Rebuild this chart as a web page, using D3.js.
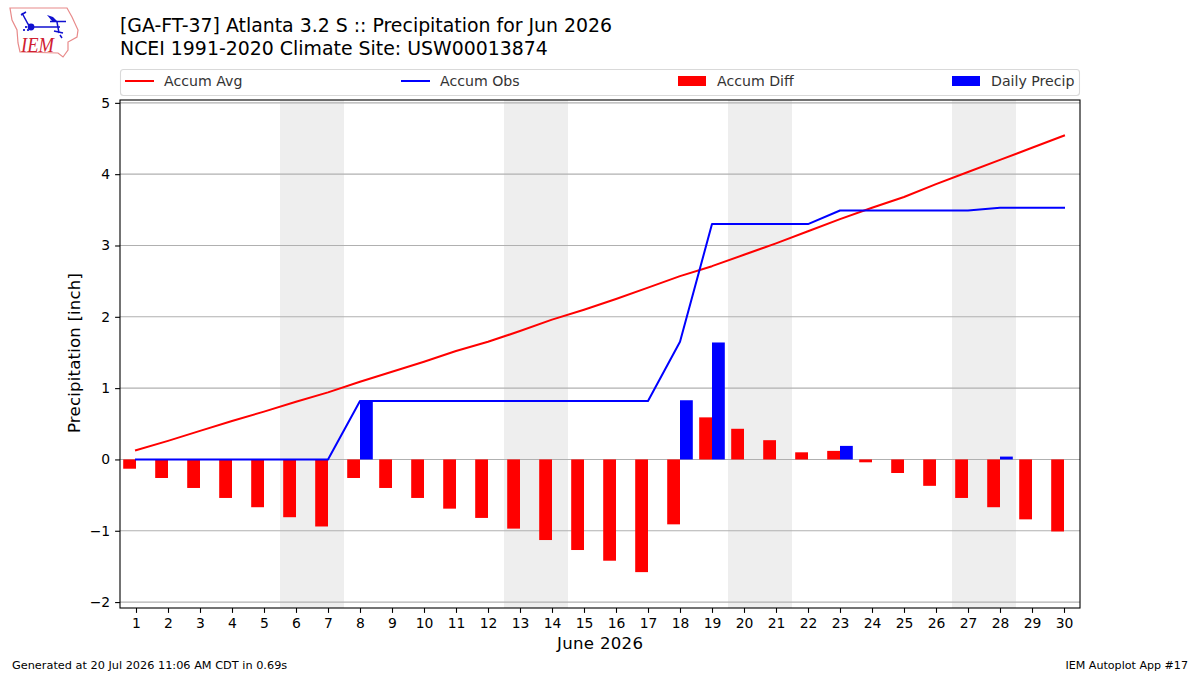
<!doctype html>
<html>
  <head>
    <meta charset="utf-8"/>
    <title>Precipitation for Jun 2026</title>
    <style>
      body, html {
        padding: 0;
        margin: 0;
        background: white;
      }
      svg {
        display: block;
      }
      text {
        font-family: "DejaVu Sans";
        fill: #000;
      }
    </style>
    <script src="https://d3js.org/d3.v7.min.js"></script>
  </head>
  <body>
    <svg id="chart" width="1200" height="675"></svg>

    <script>
      var days = d3.range(1, 31);
      var accumAvg = [0.13, 0.26, 0.40, 0.54, 0.67, 0.81, 0.94, 1.09, 1.23, 1.37,
                      1.52, 1.65, 1.80, 1.96, 2.10, 2.25, 2.41, 2.57, 2.71, 2.87,
                      3.03, 3.20, 3.37, 3.53, 3.68, 3.86, 4.03, 4.20, 4.37, 4.54];
      var accumObs = [0, 0, 0, 0, 0, 0, 0, 0.82, 0.82, 0.82,
                      0.82, 0.82, 0.82, 0.82, 0.82, 0.82, 0.82, 1.65, 3.30, 3.30,
                      3.30, 3.30, 3.49, 3.49, 3.49, 3.49, 3.49, 3.53, 3.53, 3.53];
      var accumDiff = [-0.13, -0.26, -0.40, -0.54, -0.67, -0.81, -0.94, -0.26, -0.40, -0.54,
                       -0.69, -0.82, -0.97, -1.13, -1.27, -1.42, -1.58, -0.91, 0.59, 0.43,
                       0.27, 0.10, 0.12, -0.04, -0.19, -0.37, -0.54, -0.67, -0.84, -1.01];
      var dailyPrecip = [0, 0, 0, 0, 0, 0, 0, 0.83, 0, 0,
                         0, 0, 0, 0, 0, 0, 0, 0.83, 1.64, 0,
                         0, 0, 0.19, 0, 0, 0, 0, 0.04, 0, 0];
      var weekends = [[6, 7], [13, 14], [20, 21], [27, 28]];
      var yTicks = [-2, -1, 0, 1, 2, 3, 4, 5];
      var legendLabels = ["Accum Avg", "Accum Obs", "Accum Diff", "Daily Precip"];

      var left = 120, right = 1080, top_ = 100, bottom = 608;
      var svg = d3.select("#chart");

      var x = d3.scaleLinear().domain([0.5, 30.5]).range([left, right]);
      var y = d3.scaleLinear().domain([-2.083, 5.04]).range([bottom, top_]);
      var barW = x(0.4) - x(0);

      // weekend shading
      svg.append("g").selectAll("rect")
        .data(weekends)
        .enter().append("rect")
          .attr("x", function(d) { return x(d[0] - 0.5); })
          .attr("y", top_)
          .attr("width", function(d) { return x(d[1] + 0.5) - x(d[0] - 0.5); })
          .attr("height", bottom - top_)
          .attr("fill", "#eeeeee");

      // y grid
      svg.append("g").selectAll("line")
        .data(yTicks)
        .enter().append("line")
          .attr("x1", left)
          .attr("x2", right)
          .attr("y1", function(d) { return y(d); })
          .attr("y2", function(d) { return y(d); })
          .attr("stroke", "#b0b0b0")
          .attr("stroke-width", 1.1);

      // bars
      svg.append("g").selectAll("rect")
        .data(accumDiff)
        .enter().append("rect")
          .attr("x", function(d, i) { return x(days[i]) - barW; })
          .attr("y", function(d) { return y(Math.max(d, 0)); })
          .attr("width", barW)
          .attr("height", function(d) { return Math.abs(y(d) - y(0)); })
          .attr("fill", "#ff0000");

      svg.append("g").selectAll("rect")
        .data(dailyPrecip)
        .enter().append("rect")
          .attr("x", function(d, i) { return x(days[i]); })
          .attr("y", function(d) { return y(d); })
          .attr("width", barW)
          .attr("height", function(d) { return y(0) - y(d); })
          .attr("fill", "#0000ff");

      // lines
      var line = d3.line()
        .x(function(d, i) { return x(days[i]); })
        .y(function(d) { return y(d); });

      svg.append("path").attr("d", line(accumAvg))
        .attr("fill", "none").attr("stroke", "#ff0000").attr("stroke-width", 2)
        .attr("stroke-linecap", "square").attr("stroke-linejoin", "round");
      svg.append("path").attr("d", line(accumObs))
        .attr("fill", "none").attr("stroke", "#0000ff").attr("stroke-width", 2)
        .attr("stroke-linecap", "square").attr("stroke-linejoin", "round");

      // axes
      var xAxis = d3.axisBottom(x).tickValues(days).tickFormat(d3.format("d")).tickSizeOuter(0).tickSize(4.9).tickPadding(4.9);
      var yAxis = d3.axisLeft(y).tickValues(yTicks)
        .tickFormat(function(d) { return d < 0 ? "\u2212" + Math.abs(d) : d; })
        .tickSizeOuter(0).tickSize(4.9).tickPadding(4.9);

      var gx = svg.append("g").attr("transform", "translate(0," + bottom + ")").call(xAxis);
      var gy = svg.append("g").attr("transform", "translate(" + left + ",0)").call(yAxis);
      [gx, gy].forEach(function(g) {
        g.select(".domain").remove();
        g.selectAll("line").attr("stroke", "#000").attr("stroke-width", 1.1);
        g.selectAll("text").style("font-family", "DejaVu Sans").style("font-size", "13.9px").attr("fill", "#000");
      });

      // frame
      svg.append("rect")
        .attr("x", left).attr("y", top_)
        .attr("width", right - left).attr("height", bottom - top_)
        .attr("fill", "none").attr("stroke", "#000").attr("stroke-width", 1.1);

      // titles
      svg.append("text").attr("x", 120).attr("y", 31.5).style("font-size", "18.9px")
        .text("[GA-FT-37] Atlanta 3.2 S :: Precipitation for Jun 2026");
      svg.append("text").attr("x", 120).attr("y", 54.5).style("font-size", "18.9px")
        .text("NCEI 1991-2020 Climate Site: USW00013874");

      svg.append("text").attr("x", 557).attr("y", 649).style("font-size", "16.6px")
        .attr("textLength", 86).attr("lengthAdjust", "spacing")
        .text("June 2026");
      svg.append("text").attr("transform", "translate(80,433) rotate(-90)").style("font-size", "16.6px")
        .attr("textLength", 160).attr("lengthAdjust", "spacing")
        .text("Precipitation [inch]");

      svg.append("text").attr("x", 12).attr("y", 669).style("font-size", "11.3px")
        .text("Generated at 20 Jul 2026 11:06 AM CDT in 0.69s");
      svg.append("text").attr("x", 1188).attr("y", 669).attr("text-anchor", "end").style("font-size", "11.1px")
        .text("IEM Autoplot App #17");

      // legend
      var legend = svg.append("g");
      legend.append("rect")
        .attr("x", 120.5).attr("y", 69.5).attr("width", 959).attr("height", 26).attr("rx", 3)
        .attr("fill", "#fff").attr("stroke", "#d9d9d9").attr("stroke-width", 1.1);
      var legendX = [125, 401, 678, 952];
      var legendColor = ["#ff0000", "#0000ff", "#ff0000", "#0000ff"];
      legendLabels.forEach(function(label, i) {
        if (i < 2) {
          legend.append("line")
            .attr("x1", legendX[i]).attr("x2", legendX[i] + 29)
            .attr("y1", 81).attr("y2", 81)
            .attr("stroke", legendColor[i]).attr("stroke-width", 2);
        } else {
          legend.append("rect")
            .attr("x", legendX[i]).attr("y", 76)
            .attr("width", 28).attr("height", 10)
            .attr("fill", legendColor[i]);
        }
        legend.append("text")
          .attr("x", legendX[i] + 39).attr("y", 86)
          .style("font-size", "14.15px").style("fill", "#333")
          .text(label);
      });

      // IEM logo
      var logo = svg.append("g");
      logo.append("path")
        .attr("d", "M10,8 L67,8 L72,17 L78,30 L77,37 L68,42 L68,50 L63,57 L58,53 L20,52 L18,43 L17,30 L12,20 Z")
        .attr("fill", "none").attr("stroke", "#e88a8a").attr("stroke-width", 1.2);
      logo.append("path")
        .attr("d", "M22,13 L28,24 L31,27 L60,27 M21,15 L26,12 M50,21.5 L66,21.5 M57,22 L59,33 M54,31 L63,33 M60,35 L62,38")
        .attr("fill", "none").attr("stroke", "#1010d0").attr("stroke-width", 1.5);
      logo.append("path").attr("d", "M47,15 L53,17 L58,22 L52,21 Z").attr("fill", "#1010d0");
      logo.append("circle").attr("cx", 31).attr("cy", 27).attr("r", 3.4).attr("fill", "#1010d0");
      logo.append("path").attr("d", "M23,29 h2 v2 h-2 Z M25,26 h2 v2 h-2 Z M27,29 h2 v2 h-2 Z").attr("fill", "#3030d0");
      logo.append("text").attr("x", 21).attr("y", 51.5)
        .attr("textLength", 33).attr("lengthAdjust", "spacingAndGlyphs")
        .style("font-family", "Liberation Serif").style("font-style", "italic").style("font-size", "21px").style("fill", "#d02030")
        .text("IEM");
    </script>
  </body>
</html>
